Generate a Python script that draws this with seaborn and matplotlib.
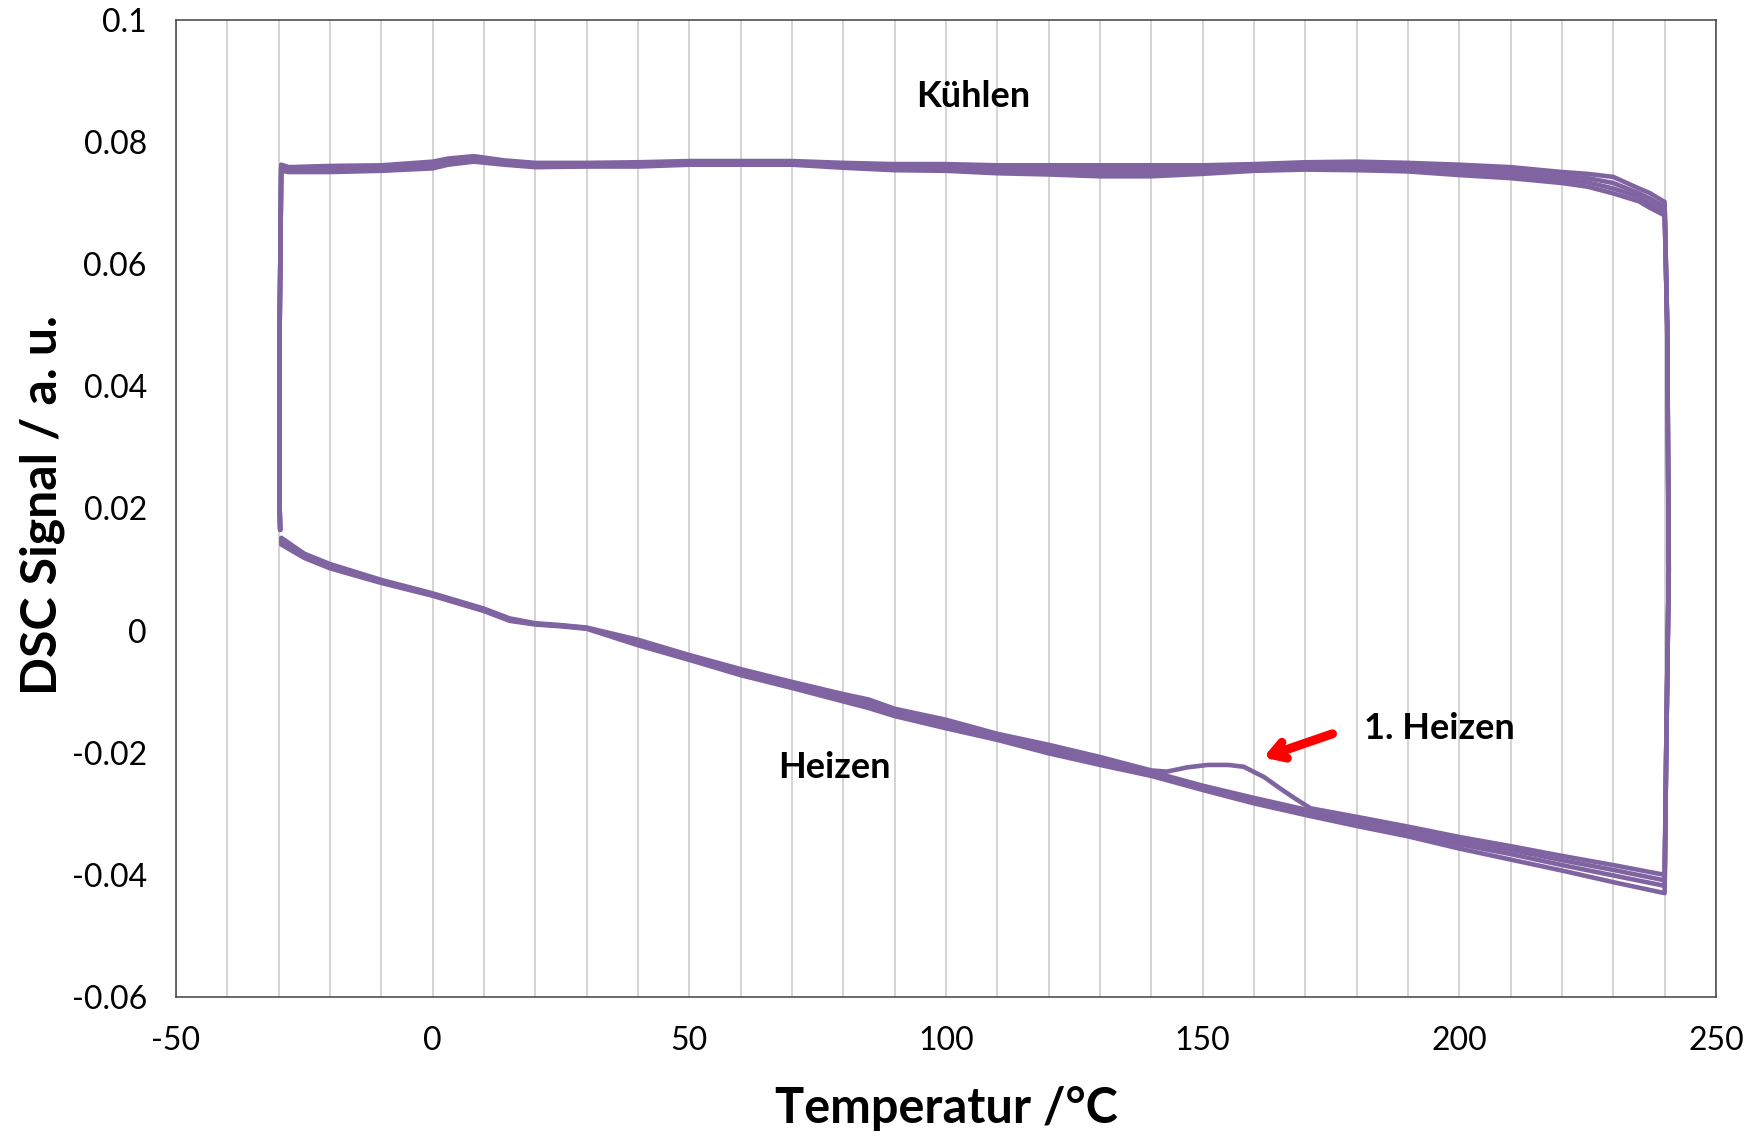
import numpy as np
import pandas as pd
import matplotlib
matplotlib.use('Agg')
import matplotlib.pyplot as plt
import seaborn as sns
from matplotlib.ticker import MultipleLocator, FuncFormatter

heat_T = [-29.5, -25, -20, -10, 0, 10, 15, 20, 25, 30, 40, 50, 60, 70, 80, 85, 90,
          100, 110, 120, 130, 140, 150, 160, 170, 180, 190, 200, 210, 220, 230, 240]

# first heating has the extra peak around 150 C
heat_T_first = [-29.5, -25, -20, -10, 0, 10, 15, 20, 25, 30, 40, 50, 60, 70, 80, 85, 90,
                100, 110, 120, 130, 140, 143, 147, 151, 155, 158, 162, 165, 168, 171,
                180, 190, 200, 210, 220, 230, 240]
heat_S_first = [0.0152, 0.0126, 0.0109, 0.0083, 0.0061, 0.0036, 0.0020, 0.0012, 0.0009, 0.0005,
                -0.0015, -0.0040, -0.0063, -0.0084, -0.0104, -0.0113, -0.0128,
                -0.0146, -0.0169, -0.0187, -0.0207, -0.0229, -0.0231, -0.0224, -0.0220,
                -0.0220, -0.0223, -0.0240, -0.0258, -0.0275, -0.0291,
                -0.0305, -0.0321, -0.0338, -0.0353, -0.0369, -0.0384, -0.0400]
heat_S2 = [0.0148, 0.0123, 0.0106, 0.0081, 0.0059, 0.0034, 0.0018, 0.0011, 0.0008, 0.0004,
           -0.0018, -0.0043, -0.0066, -0.0087, -0.0108, -0.0118, -0.0131,
           -0.0150, -0.0172, -0.0191, -0.0211, -0.0231, -0.0254, -0.0274, -0.0293,
           -0.0309, -0.0326, -0.0344, -0.0359, -0.0376, -0.0392, -0.0409]
heat_S3 = [0.0145, 0.0121, 0.0104, 0.0080, 0.0058, 0.0033, 0.0017, 0.0011, 0.0008, 0.0004,
           -0.0021, -0.0045, -0.0069, -0.0091, -0.0112, -0.0122, -0.0135,
           -0.0155, -0.0176, -0.0196, -0.0215, -0.0234, -0.0257, -0.0278, -0.0297,
           -0.0314, -0.0331, -0.0350, -0.0366, -0.0384, -0.0401, -0.0418]
heat_S4 = [0.0141, 0.0119, 0.0102, 0.0078, 0.0057, 0.0032, 0.0016, 0.0010, 0.0007, 0.0003,
           -0.0024, -0.0048, -0.0073, -0.0094, -0.0116, -0.0127, -0.0140,
           -0.0160, -0.0179, -0.0201, -0.0220, -0.0238, -0.0261, -0.0283, -0.0302,
           -0.0320, -0.0337, -0.0357, -0.0375, -0.0393, -0.0412, -0.0430]

cool_T = [240, 237, 235, 230, 225, 220, 210, 200, 190, 180, 170, 160, 150, 140, 130, 120,
          110, 100, 90, 80, 70, 60, 50, 40, 30, 20, 14, 8, 3, 0, -10, -20, -28, -29.5]
cool_S1 = [0.0702, 0.0717, 0.0724, 0.0743, 0.0748, 0.0751, 0.0759, 0.0763, 0.0766, 0.0768,
           0.0767, 0.0764, 0.0762, 0.0762, 0.0762, 0.0762, 0.0762, 0.0764, 0.0764, 0.0766,
           0.0769, 0.0769, 0.0769, 0.0767, 0.0766, 0.0766, 0.0770, 0.0777, 0.0773, 0.0768,
           0.0762, 0.0761, 0.0759, 0.0763]
cool_S2 = [0.0694, 0.0708, 0.0716, 0.0733, 0.0741, 0.0745, 0.0753, 0.0757, 0.0761, 0.0763,
           0.0763, 0.0760, 0.0757, 0.0756, 0.0756, 0.0757, 0.0758, 0.0760, 0.0760, 0.0763,
           0.0766, 0.0766, 0.0766, 0.0764, 0.0763, 0.0763, 0.0767, 0.0774, 0.0770, 0.0765,
           0.0759, 0.0758, 0.0756, 0.0760]
cool_S3 = [0.0687, 0.0700, 0.0710, 0.0724, 0.0734, 0.0739, 0.0747, 0.0752, 0.0757, 0.0759,
           0.0759, 0.0757, 0.0753, 0.0750, 0.0750, 0.0752, 0.0753, 0.0757, 0.0757, 0.0761,
           0.0765, 0.0765, 0.0765, 0.0762, 0.0761, 0.0761, 0.0765, 0.0771, 0.0766, 0.0761,
           0.0756, 0.0754, 0.0754, 0.0756]
cool_S4 = [0.0680, 0.0693, 0.0703, 0.0716, 0.0727, 0.0733, 0.0741, 0.0746, 0.0752, 0.0754,
           0.0755, 0.0753, 0.0748, 0.0744, 0.0744, 0.0747, 0.0749, 0.0753, 0.0754, 0.0758,
           0.0763, 0.0763, 0.0763, 0.0760, 0.0760, 0.0759, 0.0763, 0.0768, 0.0763, 0.0757,
           0.0753, 0.0751, 0.0751, 0.0753]

# the nearly vertical jumps at the turning points
right_T = [240.3, 240.8, 240.5]
right_S = [-0.020, 0.010, 0.050]
left_T = [-29.8, -29.8, -29.7]
left_S = [0.050, 0.020, 0.0165]

x_ticks = [-50, 0, 50, 100, 150, 200, 250]
y_ticks = [-0.06, -0.04, -0.02, 0, 0.02, 0.04, 0.06, 0.08, 0.1]

purple = '#8064A2'

# build one loop per cycle: heating -> up at 240 -> cooling -> down at -30
cycles = [
    (heat_T_first, heat_S_first, cool_S1),
    (heat_T, heat_S2, cool_S2),
    (heat_T, heat_S3, cool_S3),
    (heat_T, heat_S4, cool_S4),
]
frames = []
for i, (ht, hs, cs) in enumerate(cycles):
    T = list(ht) + right_T + cool_T + left_T
    S = list(hs) + right_S + list(cs) + left_S
    frames.append(pd.DataFrame({'T': T, 'S': S, 'cycle': i + 1}))
df = pd.concat(frames, ignore_index=True)

sns.set_style('white')
plt.rcParams['font.family'] = ['Lato', 'DejaVu Sans']
plt.rcParams['axes.unicode_minus'] = False
plt.rcParams['text.color'] = 'black'

fig = plt.figure(figsize=(17.51, 11.36), dpi=100)
ax = fig.add_axes([0.1005, 0.1224, 0.8795, 0.8600])

for c, d in df.groupby('cycle'):
    sns.lineplot(data=d, x='T', y='S', sort=False, estimator=None, color=purple,
                 linewidth=3.3, ax=ax, legend=False)

ax.set_xlim(-50, 250)
ax.set_ylim(-0.06, 0.1)
ax.set_xticks(x_ticks)
ax.set_yticks(y_ticks)
ax.xaxis.set_minor_locator(MultipleLocator(10))
ax.grid(which='minor', axis='x', color='#c8c8c8', linewidth=1.1)
ax.grid(which='major', axis='x', color='#c8c8c8', linewidth=1.1)
ax.grid(False, axis='y')
ax.set_axisbelow(True)

ax.yaxis.set_major_formatter(FuncFormatter(lambda v, p: f'{round(v, 3):g}'))
ax.tick_params(axis='both', which='major', direction='out', length=8, width=1.0,
               color='#404040', labelsize=23, labelcolor='black')
ax.tick_params(axis='y', pad=13)
ax.tick_params(axis='x', pad=13)
ax.tick_params(axis='x', which='minor', length=0)

for s in ax.spines.values():
    s.set_visible(True)
    s.set_color('#404040')
    s.set_linewidth(1.1)

ax.set_xlabel('Temperatur /°C', fontsize=35, fontweight='bold', va='center', color='black')
ax.set_ylabel('DSC Signal / a. u.', fontsize=36, fontweight='bold', va='center', color='black')
ax.xaxis.set_label_coords(0.5006, -0.1146)
ax.yaxis.set_label_coords(-0.0870, 0.5036)

ax.text(105.3, 0.0874, 'Kühlen', fontsize=26, fontweight='bold', ha='center', va='center')
ax.text(78.3, -0.0225, 'Heizen', fontsize=26, fontweight='bold', ha='center', va='center')
ax.text(196.2, -0.0161, '1. Heizen', fontsize=26, fontweight='bold', ha='center', va='center')
ax.annotate('', xy=(161.8, -0.0208), xytext=(175.3, -0.0169),
            arrowprops=dict(arrowstyle='->,head_length=1.0,head_width=0.6',
                            color='#ff0000', lw=6.5, shrinkA=0, shrinkB=0))

fig.savefig('out.png', dpi=100)
